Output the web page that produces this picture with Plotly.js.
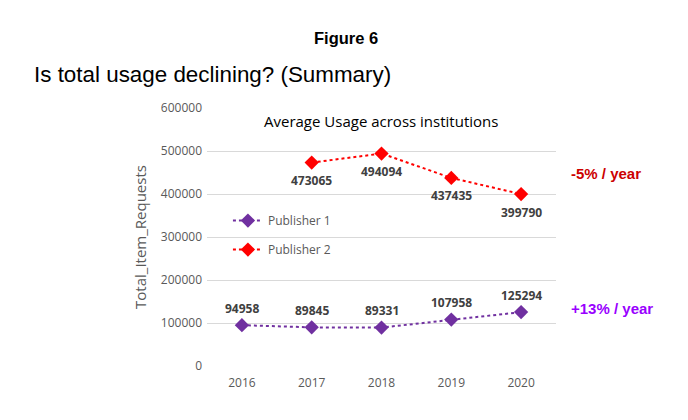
<!DOCTYPE html>
<html>
<head>
<meta charset="utf-8">
<script src="https://cdn.plot.ly/plotly-3.0.1.min.js"></script>
<style>
  html, body { margin: 0; padding: 0; background: #fff; }
  #chart { width: 688px; height: 420px; }
</style>
</head>
<body>
<div id="chart"></div>
<script>
// values
var years = ['2016', '2017', '2018', '2019', '2020'];
var publisher1 = [94958, 89845, 89331, 107958, 125294];
var publisher2 = [null, 473065, 494094, 437435, 399790];
var seriesNames = ['Publisher 1', 'Publisher 2'];
var trendLabels = ['-5% / year', '+13% / year'];

var labelFont = {family: 'Open Sans, Liberation Sans, sans-serif', size: 12, color: '#404040', weight: 'bold'};
var headFont = 'Liberation Sans, Arial, sans-serif';

function makeTrace(name, values, color){
  return {
    x: years,
    y: values,
    name: name,
    legendgroup: name,
    type: 'scatter',
    mode: 'lines+markers',
    cliponaxis: false,
    connectgaps: false,
    line: {color: color, width: 2, dash: 'dot'},
    marker: {symbol: 'diamond', size: 11, color: color}
  };
}

// value labels: above the points for publisher 1, below for publisher 2
// (category index as x, since '2016' alone would be read as index 2016)
function valueLabels(values, shift){
  let out = [];
  for (let i = 0; i < values.length; i++) {
    if (values[i] == null) continue;
    out.push({
      x: i, y: values[i], xref: 'x', yref: 'y',
      text: String(values[i]), showarrow: false,
      yshift: shift, font: labelFont
    });
  }
  return out;
}

var data = [
  makeTrace(seriesNames[0], publisher1, '#7030a0'),
  makeTrace(seriesNames[1], publisher2, '#ff0000')
];

var annotations = [
  {text: 'Figure 6', xref: 'paper', yref: 'paper', x: 0.397, y: 1.271, yanchor: 'middle',
   showarrow: false, font: {family: headFont, size: 16.5, color: '#000', weight: 'bold'}},
  {text: 'Is total usage declining? (Summary)', xref: 'paper', yref: 'paper', x: -0.501, y: 1.128, yanchor: 'middle',
   xanchor: 'left', showarrow: false, font: {family: headFont, size: 22.4, color: '#000'}},
  {text: 'Average Usage across institutions', xref: 'paper', yref: 'paper', x: 0.4986, y: 0.9496, yanchor: 'middle',
   showarrow: false, font: {size: 15, color: '#000'}},
  {text: trendLabels[0], xref: 'paper', yref: 'paper', x: 1.037, y: 0.748, yanchor: 'middle',
   xanchor: 'left', showarrow: false, font: {family: headFont, size: 15, color: '#cc0000', weight: 'bold'}},
  {text: trendLabels[1], xref: 'paper', yref: 'paper', x: 1.037, y: 0.221, yanchor: 'middle',
   xanchor: 'left', showarrow: false, font: {family: headFont, size: 15, color: '#9900ff', weight: 'bold'}}
].concat(valueLabels(publisher1, 17), valueLabels(publisher2, -18));

var layout = {
  width: 688,
  height: 420,
  paper_bgcolor: '#fff',
  plot_bgcolor: '#fff',
  margin: {l: 207, r: 132, t: 108, b: 54},
  font: {family: 'Open Sans, Liberation Sans, sans-serif', color: '#595959'},
  showlegend: true,
  legend: {
    x: 0.06, y: 0.62, xanchor: 'left', yanchor: 'top',
    bgcolor: 'rgba(0,0,0,0)',
    font: {size: 12, color: '#595959'},
    tracegroupgap: 10
  },
  xaxis: {
    type: 'category',
    range: [-0.5, 4.5],
    showgrid: false,
    zeroline: false,
    showline: false,
    ticks: '',
    ticklabelstandoff: 8,
    tickfont: {size: 12, color: '#595959'}
  },
  yaxis: {
    range: [0, 600000],
    dtick: 100000,
    tickformat: 'd',
    showgrid: true,
    gridcolor: '#d9d9d9',
    zeroline: false,
    showline: false,
    ticks: '',
    ticklabelstandoff: 4,
    tickfont: {size: 12, color: '#595959'},
    title: {text: 'Total_Item_Requests', font: {size: 15, color: '#595959'}, standoff: 10}
  },
  annotations: annotations
};

Plotly.newPlot('chart', data, layout, {displayModeBar: false, staticPlot: true});
</script>
</body>
</html>
